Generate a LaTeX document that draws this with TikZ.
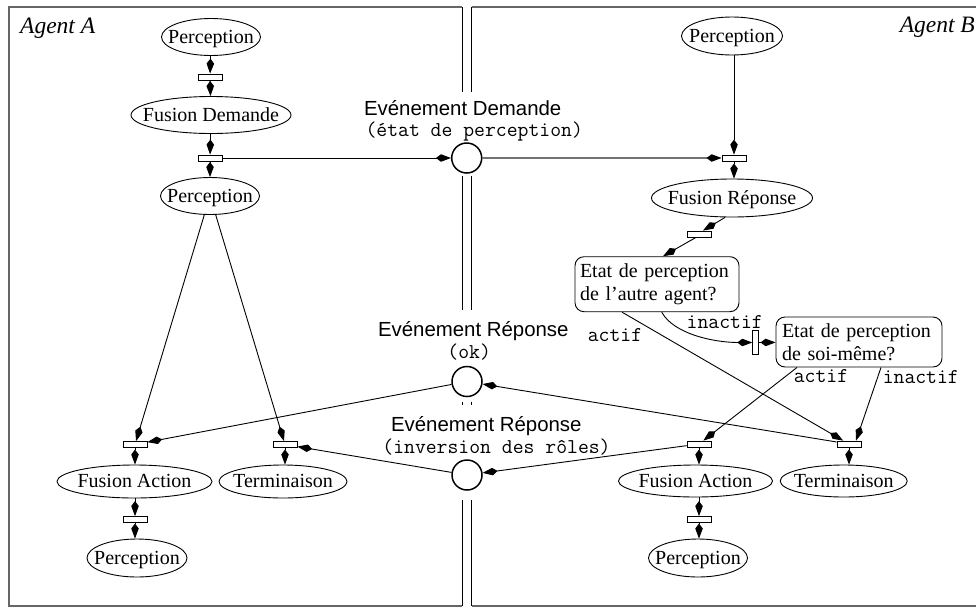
\documentclass[tikz,border=0pt]{standalone}
\usepackage{fontspec}
\setmainfont{Liberation Serif}
\setsansfont{Liberation Sans}
\usetikzlibrary{arrows.meta,shapes.geometric,calc}
\newcommand\myser{\fontsize{20}{22.5}\selectfont\rmfamily}
\newcommand\mysans{\fontsize{20.4}{24}\selectfont\sffamily}
\newcommand\mymono{\fontsize{21.1}{24}\selectfont\ttfamily}
\newcommand\myital{\fontsize{23.5}{26}\selectfont\rmfamily\itshape}
\newcommand\zb[1]{\makebox[0pt]{#1}}
\begin{document}
\begin{tikzpicture}[x=1pt,y=-1pt,
  el/.style={ellipse, draw, line width=0.9pt, inner sep=0pt, font=\myser, text height=15pt, text depth=3pt},
  bar/.style={rectangle, draw, fill=white, line width=0.8pt, inner sep=0pt, minimum width=24pt, minimum height=6pt},
  vbar/.style={rectangle, draw, fill=white, line width=0.8pt, inner sep=0pt, minimum width=6pt, minimum height=24pt},
  place/.style={circle, draw, line width=1.5pt, inner sep=0pt, minimum size=30pt},
  qbox/.style={rectangle, draw, rounded corners=9pt, line width=0.9pt, font=\myser, align=left, text width=154pt, inner xsep=5pt, inner ysep=4pt},
  lab/.style={font=\mysans, inner sep=0pt, anchor=base},
  mono/.style={font=\mymono, inner sep=0pt, anchor=base},
  e/.style={line width=0.9pt, -{Kite[length=15pt,width=7.5pt,inset=5pt,color=black]}},
  eg/.style={e, draw=black!55, line width=1.2pt},
  frame/.style={draw=black!60, line width=1.6pt},
  wall/.style={draw=black, line width=0.9pt}]
\useasboundingbox (0,0) rectangle (976,608);
\clip (0,0) rectangle (976,608);
\fill[white] (0,0) rectangle (976,608);
% frames and walls
\draw[frame] (462,7) -- (9,7) -- (9,606) -- (462,606);
\draw[frame] (471.5,7) -- (990,7);
\draw[frame] (471.5,606) -- (990,606);
\foreach \x in {462,471.5} {
  \draw[wall] (\x,7) -- (\x,92);
  \draw[wall] (\x,176) -- (\x,310);
  \draw[wall] (\x,401.5) -- (\x,405);
  \draw[wall] (\x,500) -- (\x,606);
}
\node[font=\myital, inner sep=0pt, anchor=base west] (aga) at (20,33.3) {Agent A};
\node[font=\myital, inner sep=0pt, anchor=base east] (agb) at (975,32) {Agent B};
% left agent
\node[el, minimum width=99pt, minimum height=37pt] (pa1) at (211,37) {\zb{Perception}};
\node[bar] (ta1) at (210,77) {};
\node[el, minimum width=160pt, minimum height=37pt] (fd) at (211,115) {\zb{Fusion Demande}};
\node[bar] (ta2) at (210,158) {};
\node[el, minimum width=99pt, minimum height=37pt] (pa2) at (210,196) {\zb{Perception}};
\node[bar] (taa) at (135,444.5) {};
\node[bar] (tat) at (285,444.5) {};
\node[el, minimum width=155pt, minimum height=33pt] (faa) at (134.5,481.5) {\zb{Fusion Action}};
\node[el, minimum width=128pt, minimum height=33pt] (tea) at (283,481.5) {\zb{Terminaison}};
\node[bar] (ta3) at (135,519.5) {};
\node[el, minimum width=100pt, minimum height=38pt] (pa3) at (137,558) {\zb{Perception}};
% places
\node[place] (cd) at (466.7,158) {};
\node[place] (co) at (467,381.5) {};
\node[place] (ci) at (467,475) {};
\node[lab] (ld) at (462.7,115.5) {Evénement Demande};
\node[mono] (ld2) at (474.2,136) {(état de perception)};
\node[lab] (lo) at (473.3,336.6) {Evénement Réponse};
\node[mono] (lo2) at (469.2,358.5) {(ok)};
\node[lab] (li) at (486.3,431.6) {Evénement Réponse};
\node[mono] (li2) at (496.5,453) {(inversion des rôles)};
% right agent
\node[el, minimum width=101pt, minimum height=38pt] (pb1) at (732,36) {\zb{Perception}};
\node[bar] (tb1) at (734,158) {};
\node[el, minimum width=161pt, minimum height=38pt] (fr) at (732,198) {\zb{Fusion Réponse}};
\node[bar] (tb2) at (699,234) {};
\node[qbox, minimum width=164pt, minimum height=55pt] (b1) at (657,284.2) {Etat de perception\\de l’autre agent?};
\node[vbar] (tv) at (755.7,342.5) {};
\node[qbox, minimum width=166pt, minimum height=50pt, inner xsep=6pt] (b2) at (859,342) {Etat de perception\\de soi-même?};
\node[bar] (tba) at (699,444) {};
\node[bar] (tbt) at (849,444) {};
\node[el, minimum width=154pt, minimum height=32pt] (fab) at (695.5,481) {\zb{Fusion Action}};
\node[el, minimum width=127pt, minimum height=32pt] (teb) at (843.7,481) {\zb{Terminaison}};
\node[bar] (tb3) at (699,519.5) {};
\node[el, minimum width=99pt, minimum height=38pt] (pb3) at (698,558) {\zb{Perception}};
\node[mono] (l1) at (724.7,328.3) {inactif};
\node[mono] (l2) at (615,341.7) {actif};
\node[mono] (l3) at (821,382.7) {actif};
\node[mono] (l4) at (920.8,383.3) {inactif};
% left edges
\draw[e] (pa1) -- (ta1);
\draw[e] (ta1) -- (fd);
\draw[e] (fd) -- (ta2);
\draw[e] (ta2) -- (pa2);
\draw[e] (ta2.east) -- (cd);
\draw[e] (pa2) -- (taa);
\draw[e] (pa2) -- (tat);
\draw[e] (co) -- (taa);
\draw[e] (ci) -- (tat);
\draw[e] (taa) -- (taa |- faa.north);
\draw[e] (tat) -- (tat |- tea.north);
\draw[e] (taa |- faa.south) -- (ta3);
\draw[e] (ta3) -- (ta3 |- pa3.north);
% right edges
\draw[e] (pb1.south -| tb1) -- (tb1);
\draw[eg] (cd) -- (tb1);
\draw[e] (tb1) -- (tb1 |- fr.north);
\draw[e] ($(fr.south)+(-7,0)$) -- ($(tb2.north)+(4,0)$);
\draw[e] ($(tb2.south)+(-3,0)$) -- ($(b1.north)+(6,0)$);
\draw[e] ($(b1.south)+(4.7,0)$) .. controls +(12,22) and +(-38,0) .. (tv.west);
\draw[e] (tv) -- (b2);
\draw[e] ($(b1.south)+(-35,0)$) -- (tbt);
\draw[e] ($(b2.south)+(-62,0)$) -- (tba);
\draw[e] ($(b2.south)+(22,0)$) -- ($(tbt.north)+(7,0)$);
\draw[e] (tbt) -- (co);
\draw[e] (tba) -- (ci);
\draw[e] (tba) -- (tba |- fab.north);
\draw[e] (tbt) -- (tbt |- teb.north);
\draw[e] (tba |- fab.south) -- (tb3);
\draw[e] (tb3) -- (tb3 |- pb3.north);
\end{tikzpicture}
\end{document}
